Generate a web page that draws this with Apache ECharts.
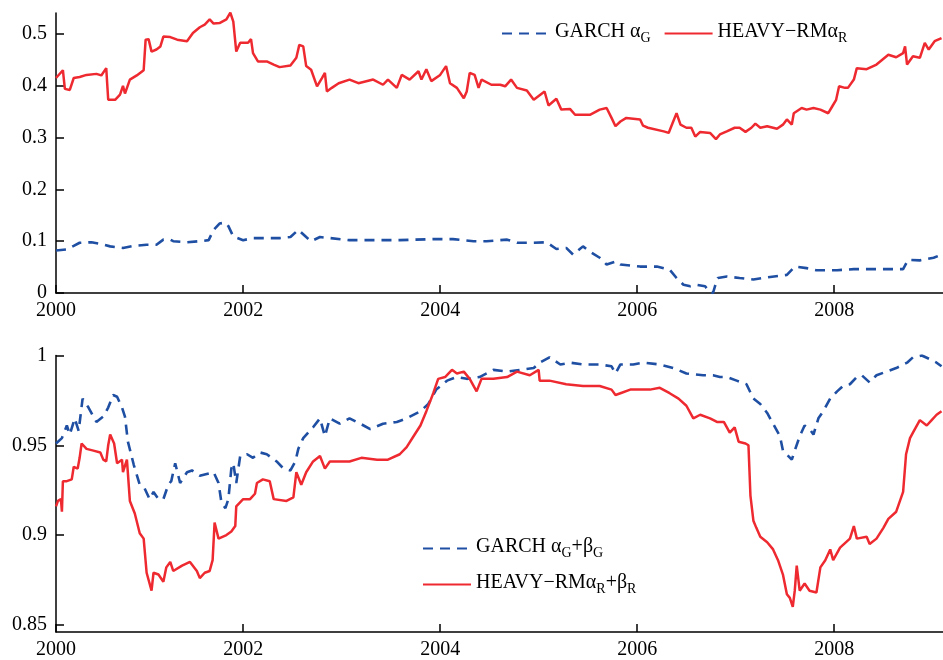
<!DOCTYPE html>
<html><head><meta charset="utf-8">
<script src="https://cdn.jsdelivr.net/npm/echarts@6/dist/echarts.min.js"></script>
<style>html,body{margin:0;padding:0;background:#fff}#c{width:943px;height:660px}</style>
</head><body><div id="c"></div>
<script>
// ---- data (decimal years) ----
const topGarchYears = [2000.10,2000.21,2000.28,2000.34,2000.46,2000.55,2000.65,2000.78,2000.89,2001.02,2001.12,2001.19,2001.26,2001.29,2001.43,2001.56,2001.65,2001.70,2001.76,2001.82,2001.85,2001.90,2002.00,2002.10,2002.24,2002.37,2002.48,2002.56,2002.64,2002.69,2002.78,2002.88,2003.08,2003.25,2003.59,2003.93,2004.13,2004.34,2004.47,2004.68,2004.78,2004.95,2005.08,2005.18,2005.28,2005.35,2005.45,2005.52,2005.62,2005.69,2005.79,2005.83,2006.03,2006.20,2006.33,2006.40,2006.47,2006.54,2006.60,2006.69,2006.74,2006.77,2006.79,2006.82,2006.91,2007.04,2007.18,2007.35,2007.52,2007.60,2007.72,2007.82,2008.03,2008.20,2008.53,2008.70,2008.75,2008.87,2009.01,2009.09];
const topGarchAlpha = [0.082,0.084,0.091,0.097,0.098,0.095,0.090,0.087,0.091,0.093,0.093,0.103,0.103,0.100,0.098,0.100,0.102,0.122,0.134,0.136,0.129,0.109,0.102,0.106,0.106,0.106,0.108,0.122,0.108,0.100,0.108,0.106,0.102,0.102,0.102,0.104,0.104,0.100,0.100,0.103,0.097,0.097,0.098,0.085,0.087,0.074,0.090,0.080,0.068,0.055,0.061,0.055,0.051,0.051,0.045,0.029,0.016,0.013,0.016,0.013,0.001,0.000,0.013,0.029,0.032,0.029,0.026,0.031,0.035,0.051,0.048,0.044,0.044,0.046,0.046,0.046,0.064,0.063,0.068,0.074];

const topHeavyYears = [2000.10,2000.17,2000.19,2000.24,2000.28,2000.34,2000.41,2000.51,2000.56,2000.61,2000.63,2000.70,2000.75,2000.78,2000.80,2000.85,2000.92,2000.99,2001.01,2001.04,2001.07,2001.12,2001.16,2001.19,2001.26,2001.33,2001.43,2001.49,2001.56,2001.61,2001.66,2001.70,2001.76,2001.83,2001.87,2001.90,2001.93,2001.97,2002.05,2002.08,2002.10,2002.15,2002.24,2002.31,2002.37,2002.48,2002.54,2002.57,2002.61,2002.64,2002.69,2002.75,2002.80,2002.83,2002.85,2002.90,2002.97,2003.08,2003.17,2003.32,2003.42,2003.47,2003.56,2003.61,2003.69,2003.78,2003.81,2003.86,2003.91,2004.00,2004.06,2004.10,2004.17,2004.24,2004.27,2004.30,2004.35,2004.39,2004.42,2004.52,2004.61,2004.66,2004.72,2004.78,2004.88,2004.95,2005.06,2005.10,2005.18,2005.23,2005.32,2005.37,2005.52,2005.62,2005.69,2005.74,2005.78,2005.83,2005.89,2006.03,2006.06,2006.11,2006.27,2006.32,2006.36,2006.40,2006.44,2006.50,2006.55,2006.59,2006.64,2006.74,2006.80,2006.84,2006.91,2006.99,2007.04,2007.10,2007.16,2007.20,2007.25,2007.32,2007.42,2007.48,2007.52,2007.57,2007.59,2007.67,2007.72,2007.79,2007.86,2007.94,2007.98,2008.02,2008.05,2008.11,2008.14,2008.20,2008.23,2008.33,2008.43,2008.55,2008.63,2008.70,2008.72,2008.74,2008.80,2008.87,2008.92,2008.96,2009.02,2009.09];
const topHeavyAlpha = [0.415,0.430,0.394,0.392,0.415,0.417,0.421,0.423,0.420,0.434,0.373,0.373,0.383,0.400,0.385,0.412,0.420,0.430,0.489,0.490,0.466,0.470,0.476,0.495,0.494,0.489,0.486,0.502,0.513,0.518,0.528,0.520,0.521,0.528,0.541,0.524,0.466,0.483,0.483,0.490,0.463,0.447,0.447,0.441,0.436,0.439,0.454,0.479,0.476,0.438,0.431,0.399,0.415,0.425,0.389,0.396,0.405,0.412,0.405,0.412,0.402,0.412,0.396,0.421,0.412,0.428,0.412,0.432,0.409,0.421,0.438,0.405,0.396,0.376,0.389,0.425,0.421,0.396,0.412,0.402,0.402,0.399,0.412,0.396,0.391,0.373,0.389,0.362,0.375,0.354,0.355,0.344,0.344,0.354,0.357,0.338,0.322,0.331,0.338,0.335,0.323,0.319,0.312,0.309,0.328,0.347,0.325,0.319,0.319,0.302,0.311,0.309,0.297,0.306,0.312,0.319,0.319,0.311,0.319,0.327,0.319,0.322,0.317,0.325,0.335,0.325,0.347,0.357,0.354,0.357,0.354,0.347,0.360,0.373,0.399,0.396,0.396,0.412,0.434,0.432,0.441,0.460,0.455,0.463,0.476,0.441,0.457,0.454,0.483,0.470,0.486,0.492];

const botGarchYears = [2000.10,2000.16,2000.21,2000.24,2000.29,2000.33,2000.37,2000.43,2000.51,2000.58,2000.63,2000.68,2000.72,2000.77,2000.80,2000.83,2000.89,2000.95,2001.00,2001.05,2001.09,2001.14,2001.19,2001.24,2001.27,2001.31,2001.36,2001.43,2001.48,2001.56,2001.63,2001.70,2001.75,2001.78,2001.82,2001.85,2001.88,2001.90,2001.93,2001.97,2002.04,2002.10,2002.17,2002.24,2002.34,2002.41,2002.48,2002.53,2002.56,2002.61,2002.71,2002.78,2002.83,2002.88,2002.98,2003.08,2003.19,2003.29,2003.42,2003.56,2003.66,2003.80,2003.88,2003.96,2004.07,2004.17,2004.27,2004.40,2004.54,2004.68,2004.81,2004.95,2005.01,2005.11,2005.22,2005.32,2005.45,2005.62,2005.74,2005.78,2005.83,2005.96,2006.06,2006.23,2006.37,2006.50,2006.67,2006.77,2006.84,2006.91,2007.01,2007.11,2007.18,2007.25,2007.32,2007.38,2007.45,2007.48,2007.57,2007.60,2007.65,2007.70,2007.75,2007.79,2007.84,2007.89,2007.96,2008.03,2008.09,2008.16,2008.23,2008.28,2008.36,2008.43,2008.53,2008.63,2008.74,2008.80,2008.89,2008.97,2009.04,2009.09];
const botGarchPersist = [0.951,0.954,0.961,0.956,0.965,0.958,0.976,0.971,0.963,0.966,0.971,0.978,0.977,0.971,0.966,0.952,0.939,0.928,0.926,0.920,0.924,0.920,0.920,0.928,0.930,0.940,0.929,0.935,0.936,0.933,0.934,0.935,0.929,0.918,0.915,0.920,0.937,0.940,0.929,0.944,0.945,0.943,0.946,0.945,0.941,0.937,0.936,0.941,0.948,0.954,0.960,0.965,0.955,0.965,0.962,0.965,0.962,0.959,0.962,0.963,0.965,0.969,0.973,0.981,0.986,0.988,0.987,0.988,0.992,0.991,0.992,0.993,0.996,0.999,0.995,0.996,0.995,0.995,0.994,0.990,0.995,0.995,0.996,0.995,0.993,0.990,0.989,0.989,0.988,0.988,0.986,0.984,0.976,0.973,0.968,0.962,0.955,0.947,0.942,0.947,0.955,0.961,0.959,0.956,0.965,0.969,0.976,0.980,0.983,0.984,0.988,0.989,0.985,0.989,0.991,0.993,0.996,0.999,1.000,0.998,0.996,0.994];

const botHeavyYears = [2000.10,2000.12,2000.15,2000.16,2000.17,2000.21,2000.26,2000.28,2000.32,2000.34,2000.36,2000.41,2000.48,2000.55,2000.58,2000.61,2000.63,2000.65,2000.69,2000.72,2000.77,2000.78,2000.82,2000.85,2000.90,2000.95,2000.99,2001.02,2001.07,2001.09,2001.14,2001.19,2001.22,2001.26,2001.29,2001.38,2001.46,2001.53,2001.56,2001.61,2001.66,2001.69,2001.71,2001.75,2001.83,2001.88,2001.92,2001.93,2002.00,2002.07,2002.12,2002.14,2002.20,2002.27,2002.31,2002.44,2002.51,2002.54,2002.59,2002.64,2002.71,2002.78,2002.83,2002.88,2003.08,2003.20,2003.36,2003.47,2003.59,2003.66,2003.73,2003.80,2003.86,2003.93,2003.98,2004.05,2004.12,2004.17,2004.24,2004.30,2004.37,2004.42,2004.54,2004.68,2004.78,2004.91,2005.00,2005.01,2005.11,2005.28,2005.45,2005.62,2005.74,2005.78,2005.83,2005.93,2006.03,2006.13,2006.23,2006.33,2006.42,2006.50,2006.57,2006.64,2006.74,2006.81,2006.88,2006.94,2006.99,2007.03,2007.10,2007.13,2007.15,2007.18,2007.21,2007.25,2007.32,2007.38,2007.43,2007.48,2007.52,2007.55,2007.58,2007.60,2007.62,2007.65,2007.70,2007.75,2007.82,2007.86,2007.91,2007.96,2007.99,2008.06,2008.16,2008.20,2008.23,2008.33,2008.36,2008.43,2008.50,2008.55,2008.63,2008.70,2008.73,2008.77,2008.80,2008.87,2008.94,2008.99,2009.04,2009.09];
const botHeavyPersist = [0.916,0.919,0.920,0.913,0.930,0.930,0.931,0.938,0.937,0.943,0.951,0.948,0.947,0.946,0.942,0.941,0.950,0.956,0.951,0.940,0.942,0.935,0.942,0.919,0.912,0.901,0.898,0.879,0.869,0.879,0.878,0.874,0.882,0.885,0.880,0.883,0.885,0.880,0.876,0.879,0.880,0.886,0.907,0.898,0.900,0.902,0.905,0.916,0.920,0.920,0.923,0.929,0.931,0.930,0.920,0.919,0.921,0.935,0.928,0.935,0.941,0.944,0.937,0.941,0.941,0.943,0.942,0.942,0.945,0.949,0.955,0.961,0.969,0.979,0.987,0.988,0.992,0.990,0.991,0.987,0.980,0.987,0.987,0.988,0.991,0.989,0.992,0.986,0.986,0.984,0.983,0.983,0.981,0.978,0.979,0.981,0.981,0.981,0.982,0.979,0.976,0.972,0.965,0.967,0.965,0.963,0.963,0.957,0.960,0.952,0.951,0.950,0.922,0.908,0.904,0.899,0.896,0.892,0.886,0.878,0.867,0.865,0.860,0.869,0.883,0.869,0.873,0.869,0.868,0.882,0.886,0.892,0.886,0.893,0.898,0.905,0.898,0.899,0.895,0.898,0.904,0.909,0.913,0.924,0.945,0.954,0.957,0.964,0.961,0.964,0.967,0.969];

const xTickValues = [2000.1, 2002, 2004, 2006, 2008];
const xTickLabels = ['2000', '2002', '2004', '2006', '2008'];
const topYTicks = [0, 0.1, 0.2, 0.3, 0.4, 0.5];
const botYTicks = [0.85, 0.9, 0.95, 1];

const seriesNames = ['GARCH αG', 'HEAVY−RMαR', 'GARCH αG+βG', 'HEAVY−RMαR+βR'];
const legendRich = {
  'GARCH αG': '{m|GARCH α}{s|G}',
  'HEAVY−RMαR': '{m|HEAVY−RMα}{s|R}',
  'GARCH αG+βG': '{m|GARCH α}{s|G}{m|+β}{s|G}',
  'HEAVY−RMαR+βR': '{m|HEAVY−RMα}{s|R}{m|+β}{s|R}'
};

// ---- chart ----
const FONT = 'Liberation Serif';
const BLUE = '#1f4fa3';
const RED = '#ee2a30';
const pairs = (xs, ys) => xs.map((x, i) => [x, ys[i]]);

const gridLeft = 56;
const grids = [
  {left: gridLeft, right: 0, top: 13, height: 280},
  {left: gridLeft, right: 0, top: 355.5, height: 279.5}
];
const xAxisBase = (gi) => ({
  type: 'value', gridIndex: gi, min: 2000.1, max: 2009.105,
  splitLine: {show: false},
  axisLine: {lineStyle: {color: '#000', width: 1.5}},
  axisTick: {inside: true, length: 8, customValues: xTickValues, lineStyle: {color: '#000', width: 1.5}},
  axisLabel: {customValues: xTickValues, margin: 8, color: '#000', fontFamily: FONT, fontSize: 20,
    formatter: v => xTickLabels[xTickValues.findIndex(t => Math.abs(t - v) < 1e-6)]}
});
const yAxisBase = (gi, min, max, ticks) => ({
  type: 'value', gridIndex: gi, min: min, max: max,
  splitLine: {show: false},
  axisLine: {show: true, lineStyle: {color: '#000', width: 1.5}},
  axisTick: {show: true, inside: true, length: 8, customValues: ticks, lineStyle: {color: '#000', width: 1.5}},
  axisLabel: {customValues: ticks, margin: 9, color: '#000', fontFamily: FONT, fontSize: 20}
});

const richStyle = {
  m: {fontFamily: FONT, fontSize: 20, color: '#000', lineHeight: 23, verticalAlign: 'top'},
  s: {fontFamily: FONT, fontSize: 14, color: '#000', lineHeight: 14, verticalAlign: 'bottom', padding: [11, 0, 0, 0]}
};
const legendBase = {
  itemWidth: 48, itemHeight: 14, padding: 0,
  formatter: n => legendRich[n],
  textStyle: {fontFamily: FONT, fontSize: 20, color: '#000', rich: richStyle},
  itemStyle: {color: 'rgba(0,0,0,0)', borderWidth: 0, opacity: 0}
};

const chart = echarts.init(document.getElementById('c'), null, {renderer: 'canvas'});
chart.setOption({
  backgroundColor: '#fff',
  animation: false,
  grid: grids,
  xAxis: [xAxisBase(0), xAxisBase(1)],
  yAxis: [yAxisBase(0, 0, 0.5405, topYTicks), yAxisBase(1, 0.846, 1, botYTicks)],
  legend: [
    Object.assign({}, legendBase, {data: [seriesNames[0], seriesNames[1]], left: 501, top: 20, orient: 'horizontal', itemGap: 13}),
    Object.assign({}, legendBase, {data: [seriesNames[2], seriesNames[3]], left: 422, top: 535, orient: 'vertical', itemGap: 11})
  ],
  series: [
    {name: seriesNames[0], type: 'line', xAxisIndex: 0, yAxisIndex: 0, symbol: 'none', data: pairs(topGarchYears, topGarchAlpha),
      lineStyle: {color: BLUE, width: 2.6, type: [10, 7]}, itemStyle: {color: BLUE}},
    {name: seriesNames[1], type: 'line', xAxisIndex: 0, yAxisIndex: 0, symbol: 'none', data: pairs(topHeavyYears, topHeavyAlpha),
      lineStyle: {color: RED, width: 2.5}, itemStyle: {color: RED}},
    {name: seriesNames[2], type: 'line', xAxisIndex: 1, yAxisIndex: 1, symbol: 'none', data: pairs(botGarchYears, botGarchPersist),
      lineStyle: {color: BLUE, width: 2.6, type: [10, 7]}, itemStyle: {color: BLUE}},
    {name: seriesNames[3], type: 'line', xAxisIndex: 1, yAxisIndex: 1, symbol: 'none', data: pairs(botHeavyYears, botHeavyPersist),
      lineStyle: {color: RED, width: 2.5}, itemStyle: {color: RED}}
  ]
});
</script></body></html>
